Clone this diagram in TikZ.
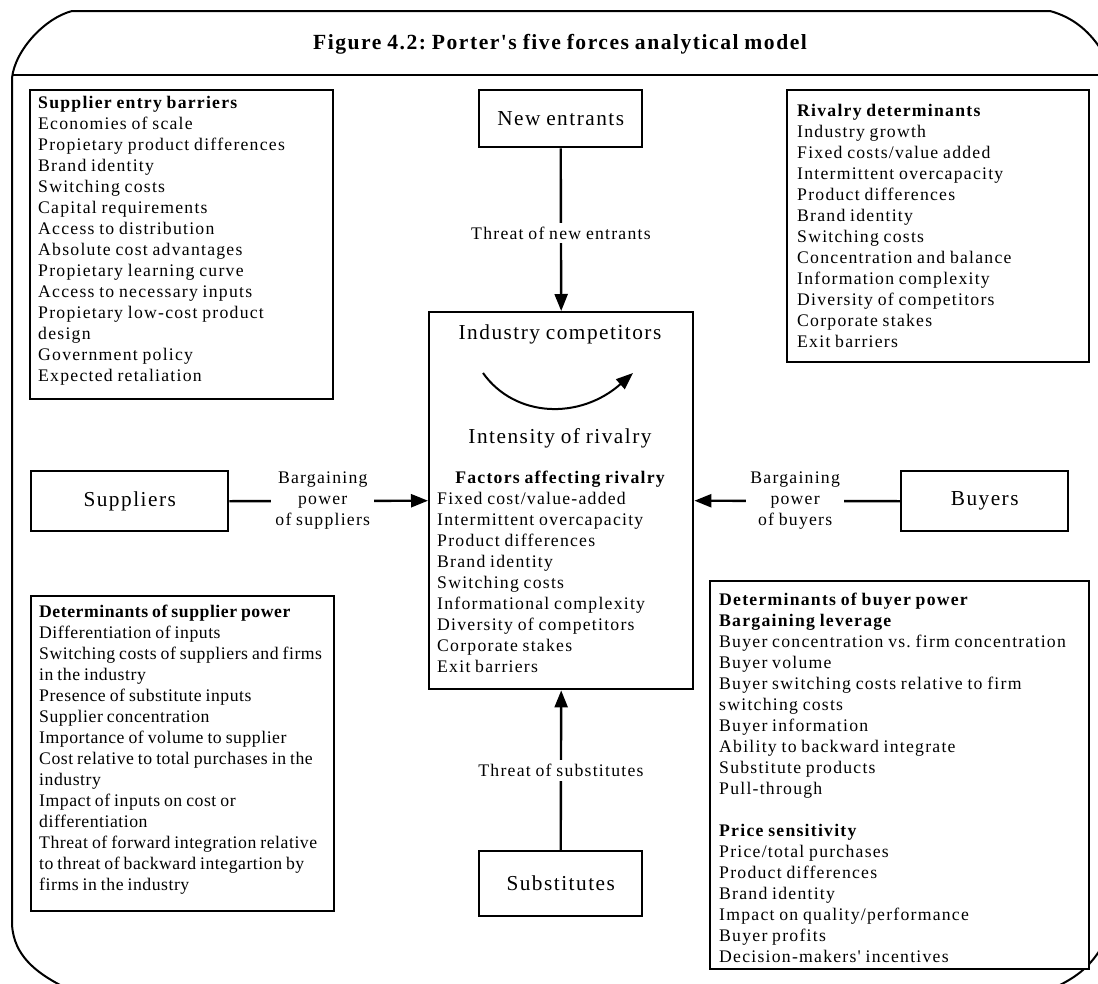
\documentclass[tikz,border=0pt]{standalone}
\usepackage{fontspec}
\newfontfamily\tx{Liberation Serif}[LetterSpace=7, WordSpace=0.85]
\newfontfamily\txn{Liberation Serif}[LetterSpace=3, WordSpace=0.8]
\usetikzlibrary{arrows.meta}
\frenchspacing
\tikzset{
  x=1pt, y=-1pt,
  every node/.style={font=\tx\fontsize{17.7}{21}\selectfont, inner sep=0pt},
  big/.style={font=\tx\fontsize{21.3}{25}\selectfont},
  frame/.style={line width=2pt, line join=round},
  panel/.style={draw, line width=2.4pt, fill=white, anchor=north west},
  arr/.style={line width=2.4pt, -{Triangle[length=17pt,width=13pt]}},
  lbl/.style={fill=white, inner sep=4pt, align=center},
  line/.style={anchor=base west},
  narrow/.style={font=\txn\fontsize{17.7}{21}\selectfont},
}
% a column of text lines, one node per line, 21pt apart
\newcommand\listlines[5][]{%
  \foreach \ln [count=\k from 0] in {#5}
    {\node[line, #1] (#4-\k) at (#2,#3+21*\k) {\ln};}}
\begin{document}
\begin{tikzpicture}
\useasboundingbox (0,0) rectangle (1098,983);

% outer frame with its bent corners
\draw[frame] (1100,48) .. controls (1088,30) and (1072,17) .. (1050,11)
  -- (72,11) .. controls (45,18) and (15,50) .. (12,78)
  -- (12,925) .. controls (14,955) and (35,972) .. (62,986);
\draw[frame] (1100,950) .. controls (1090,965) and (1080,975) .. (1058,986);
\draw[frame] (12,75) -- (1100,75);
\node[font=\tx\bfseries\fontsize{21.6}{25}\selectfont] (title) at (560,44)
  {Figure 4.2: Porter's five forces analytical model};

% panels
\node[panel, minimum width=303pt, minimum height=309pt] (entry) at (29,89) {};
\node[panel, minimum width=163pt, minimum height=57pt] (newent) at (478,89) {};
\node[panel, minimum width=302pt, minimum height=272pt] (rival) at (786,89) {};
\node[panel, minimum width=197pt, minimum height=60pt] (supp) at (30,470) {};
\node[panel, minimum width=264pt, minimum height=377pt] (comp) at (428,311) {};
\node[panel, minimum width=167pt, minimum height=60pt] (buy) at (900,470) {};
\node[panel, minimum width=303pt, minimum height=315pt] (suppow) at (30,595) {};
\node[panel, minimum width=379pt, minimum height=388pt] (buyer) at (709,580) {};
\node[panel, minimum width=163pt, minimum height=65pt] (subst) at (478,850) {};

% names of the five forces
\node[big] (newent-t) at (newent) {New entrants};
\node[big] (supp-t) at (supp) {Suppliers};
\node[big] (buy-t) at (buy) {Buyers};
\node[big] (subst-t) at (subst) {Substitutes};

% forces acting on the industry
\draw[arr] (newent.south) -- (comp.north)
  node[lbl, pos=0.52] (l-new) {Threat of new entrants};
\draw[arr] (subst.north) -- (comp.south)
  node[lbl, pos=0.5] (l-sub) {Threat of substitutes};
\draw[arr] (supp.east) -- (comp.west)
  node[lbl, pos=0.47] (l-supp) {Bargaining\\power\\of suppliers};
\draw[arr] (buy.west) -- (comp.east)
  node[lbl, pos=0.51] (l-buy) {Bargaining\\power\\of buyers};

% industry competitors
\node[big, anchor=base] (comp-t) at (560,339) {Industry competitors};
\coordinate (rv-a) at (483,373);
\coordinate (rv-b) at (633,373);
\draw[line width=2pt, -{Triangle[length=17pt,width=13pt]}]
  (rv-a) .. controls (515,418) and (580,420) .. (rv-b);
\node[big, anchor=base] (comp-i) at (560,443) {Intensity of rivalry};
\node[anchor=base, font=\tx\bfseries\fontsize{17.7}{21}\selectfont] (comp-h) at (560,483)
  {Factors affecting rivalry};
\listlines{437}{504}{cl}{Fixed cost/value-added, Intermittent overcapacity,
  Product differences, Brand identity, Switching costs, Informational complexity,
  Diversity of competitors, Corporate stakes, Exit barriers}

% determinant lists
\listlines{38}{108}{el}{{\bfseries Supplier entry barriers}, Economies of scale,
  Propietary product differences, Brand identity, Switching costs,
  Capital requirements, Access to distribution, Absolute cost advantages,
  Propietary learning curve, Access to necessary inputs,
  Propietary low-cost product, design, Government policy, Expected retaliation}

\listlines{797}{116}{rl}{{\bfseries Rivalry determinants}, Industry growth,
  Fixed costs/value added, Intermittent overcapacity, Product differences,
  Brand identity, Switching costs, Concentration and balance,
  Information complexity, Diversity of competitors, Corporate stakes, Exit barriers}

\listlines[narrow]{39}{617}{sl}{{\bfseries Determinants of supplier power},
  Differentiation of inputs, Switching costs of suppliers and firms,
  in the industry, Presence of substitute inputs, Supplier concentration,
  Importance of volume to supplier, Cost relative to total purchases in the,
  industry, Impact of inputs on cost or, differentiation,
  Threat of forward integration relative, to threat of backward integartion by,
  firms in the industry}

\listlines{719}{605}{bl}{{\bfseries Determinants of buyer power},
  {\bfseries Bargaining leverage}, Buyer concentration vs. firm concentration,
  Buyer volume, Buyer switching costs relative to firm, switching costs,
  Buyer information, Ability to backward integrate, Substitute products,
  Pull-through}
\listlines{719}{836}{pl}{{\bfseries Price sensitivity}, Price/total purchases,
  Product differences, Brand identity, Impact on quality/performance,
  Buyer profits, Decision-makers' incentives}
\end{tikzpicture}
\end{document}
